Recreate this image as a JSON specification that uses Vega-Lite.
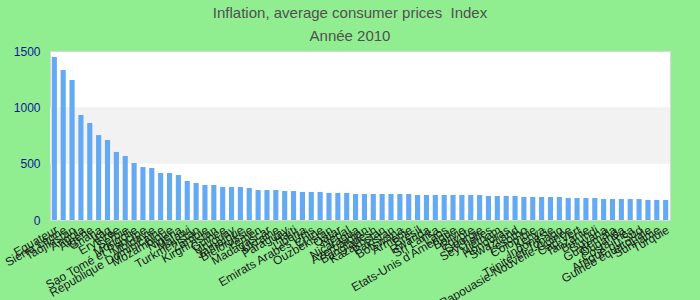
{
  "$schema": "https://vega.github.io/schema/vega-lite/v6.json",
  "autosize": {"type": "none"},
  "width": 620,
  "height": 169,
  "padding": {"left": 50, "top": 51, "right": 30, "bottom": 80},
  "background": "#90ee90",
  "title": {
    "text": "Inflation, average consumer prices\u00a0 Index",
    "subtitle": "Année 2010",
    "anchor": "middle",
    "dx": -10,
    "offset": 1,
    "font": "Liberation Sans",
    "fontSize": 15,
    "fontWeight": "normal",
    "color": "#505050",
    "subtitleFont": "Liberation Sans",
    "subtitleFontSize": 15,
    "subtitleColor": "#505050",
    "subtitlePadding": 8
  },
  "config": {
    "view": {"stroke": "#d8d8d8", "fill": "white"},
    "font": "Liberation Sans"
  },
  "datasets": {
    "bands": [{"lo": 500, "hi": 1000}],
    "vals": [
      {"pays": "Equateur", "v": 1447},
      {"pays": "Sierra Leone", "v": 1331},
      {"pays": "Tadjikistan", "v": 1243},
      {"pays": "Angola", "v": 932},
      {"pays": "Algérie", "v": 861},
      {"pays": "Ghana", "v": 754},
      {"pays": "Iraq", "v": 710},
      {"pays": "Erythrée", "v": 604},
      {"pays": "Serbie", "v": 568},
      {"pays": "Mongolie", "v": 506},
      {"pays": "Sao Tomé et Principe", "v": 470},
      {"pays": "Moldavie", "v": 462},
      {"pays": "République Dominicaine", "v": 417},
      {"pays": "Mozambique", "v": 417},
      {"pays": "Nigeria", "v": 399},
      {"pays": "Malawi", "v": 346},
      {"pays": "Turkménistan", "v": 328},
      {"pays": "Zambie", "v": 311},
      {"pays": "Kirghizistan", "v": 311},
      {"pays": "Guinée", "v": 293},
      {"pays": "Uruguay", "v": 293},
      {"pays": "Jamaïque", "v": 293},
      {"pays": "Biélorussie", "v": 284},
      {"pays": "Yémen", "v": 266},
      {"pays": "Madagascar", "v": 266},
      {"pays": "Ukraine", "v": 266},
      {"pays": "Paraguay", "v": 257},
      {"pays": "Haïti", "v": 257},
      {"pays": "Libéria", "v": 249},
      {"pays": "Emirats Arabes Unis", "v": 249},
      {"pays": "Chine", "v": 249},
      {"pays": "Ouzbékistan", "v": 240},
      {"pays": "Qatar", "v": 240},
      {"pays": "Népal", "v": 240},
      {"pays": "Nicaragua", "v": 231},
      {"pays": "Azerbaïdjan", "v": 231},
      {"pays": "Bangladesh", "v": 231},
      {"pays": "Kazakhstan", "v": 231},
      {"pays": "Pakistan", "v": 231},
      {"pays": "Botswana", "v": 231},
      {"pays": "Arménie", "v": 231},
      {"pays": "Brésil", "v": 222},
      {"pays": "Rwanda", "v": 222},
      {"pays": "Sri Lanka", "v": 222},
      {"pays": "Laos", "v": 222},
      {"pays": "Etats-Unis d'Amérique", "v": 222},
      {"pays": "Bolivie", "v": 222},
      {"pays": "Egypte", "v": 222},
      {"pays": "Géorgie", "v": 222},
      {"pays": "Seychelles", "v": 213},
      {"pays": "Vietnam", "v": 213},
      {"pays": "Honduras", "v": 213},
      {"pays": "Swaziland", "v": 213},
      {"pays": "Lesotho", "v": 204},
      {"pays": "Colombie", "v": 204},
      {"pays": "Kenya", "v": 204},
      {"pays": "Indonésie", "v": 204},
      {"pays": "Trinité-et-Tobago", "v": 204},
      {"pays": "Papouasie-Nouvelle-Guinée", "v": 195},
      {"pays": "Cap-Vert", "v": 195},
      {"pays": "Tanzanie", "v": 195},
      {"pays": "Burundi", "v": 195},
      {"pays": "Guyana", "v": 186},
      {"pays": "Guatemala", "v": 186},
      {"pays": "Ouganda", "v": 186},
      {"pays": "Costa Rica", "v": 186},
      {"pays": "Afrique du Sud", "v": 186},
      {"pays": "Guinée équatoriale", "v": 178},
      {"pays": "Suriname", "v": 178},
      {"pays": "Turquie", "v": 178}
    ]
  },
  "layer": [
    {
      "data": {"name": "bands"},
      "mark": {"type": "rect", "color": "#f2f2f2"},
      "encoding": {
        "y": {
          "field": "lo",
          "type": "quantitative",
          "scale": {"domain": [0, 1500]},
          "axis": {
            "title": null,
            "values": [0, 500, 1000, 1500],
            "format": "d",
            "grid": false,
            "ticks": false,
            "domain": false,
            "labelFontSize": 12,
            "labelColor": "#14149a",
            "labelPadding": 10
          }
        },
        "y2": {"field": "hi"}
      }
    },
    {
      "data": {"name": "vals"},
      "mark": {"type": "bar", "color": "#64aaf2"},
      "encoding": {
        "x": {
          "field": "pays",
          "type": "nominal",
          "sort": null,
          "scale": {"paddingInner": 0.42, "paddingOuter": 0.2},
          "axis": {
            "title": null,
            "labelAngle": -30,
            "labelAlign": "right",
            "labelBaseline": "top",
            "labelFontSize": 12,
            "labelColor": "#1a1a1a",
            "labelOverlap": false,
            "labelLimit": 300,
            "labelPadding": 4,
            "ticks": false,
            "domain": false
          }
        },
        "y": {
          "field": "v",
          "type": "quantitative",
          "scale": {"domain": [0, 1500]},
          "axis": {
            "title": null,
            "values": [0, 500, 1000, 1500],
            "format": "d",
            "grid": false,
            "ticks": false,
            "domain": false,
            "labelFontSize": 12,
            "labelColor": "#14149a",
            "labelPadding": 10
          }
        }
      }
    }
  ]
}
